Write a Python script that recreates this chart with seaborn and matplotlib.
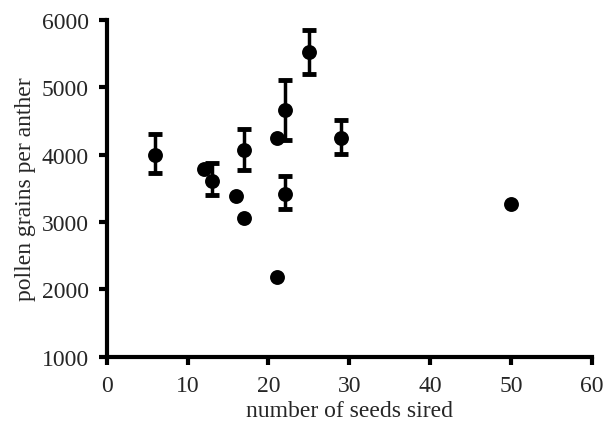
import matplotlib
matplotlib.use("Agg")
import matplotlib.pyplot as plt
import seaborn as sns
import numpy as np
import pandas as pd

seeds_sired = [6, 12, 13, 16, 17, 17, 21, 21, 22, 22, 25, 29, 50]
pollen_per_anther = [3990, 3790, 3610, 3390, 3065, 4065, 4255, 2190, 4665, 3415, 5530, 4245, 3265]
err_low = [260, 0, 210, 0, 0, 290, 0, 0, 440, 215, 330, 240, 0]
err_high = [310, 0, 270, 0, 0, 310, 0, 0, 450, 270, 320, 265, 0]

x_ticks = [0, 10, 20, 30, 40, 50, 60]
y_ticks = [1000, 2000, 3000, 4000, 5000, 6000]

sns.set_style("ticks")
plt.rcParams['font.family'] = ['Liberation Serif', 'DejaVu Serif']

fig = plt.figure(figsize=(6.07, 4.27), dpi=100)
ax = fig.add_axes([0.176, 0.162, 0.799, 0.789])

df = pd.DataFrame({"seeds": seeds_sired, "pollen": pollen_per_anther})

has_err = [i for i in range(len(seeds_sired)) if err_low[i] > 0 or err_high[i] > 0]
ax.errorbar([seeds_sired[i] for i in has_err],
            [pollen_per_anther[i] for i in has_err],
            yerr=[[err_low[i] for i in has_err], [err_high[i] for i in has_err]],
            fmt='none', ecolor='black', elinewidth=2.5, capsize=5, capthick=3.5, zorder=2)

sns.scatterplot(data=df, x="seeds", y="pollen", ax=ax, color='black', s=115,
                edgecolor='black', linewidth=0, zorder=3)

ax.set_xlim(0, 60)
ax.set_ylim(1000, 6000)
ax.set_xticks(x_ticks)
ax.set_yticks(y_ticks)
ax.set_xlabel("number of seeds sired", fontsize=17, labelpad=3)
ax.set_ylabel("pollen grains per anther", fontsize=17, labelpad=4)
ax.tick_params(axis='both', labelsize=17, width=3, length=6, direction='out', color='black', pad=7)
for s in ['top', 'right']:
    ax.spines[s].set_visible(False)
for s in ['left', 'bottom']:
    ax.spines[s].set_linewidth(3)
    ax.spines[s].set_color('black')

fig.savefig("out.png", dpi=100)
